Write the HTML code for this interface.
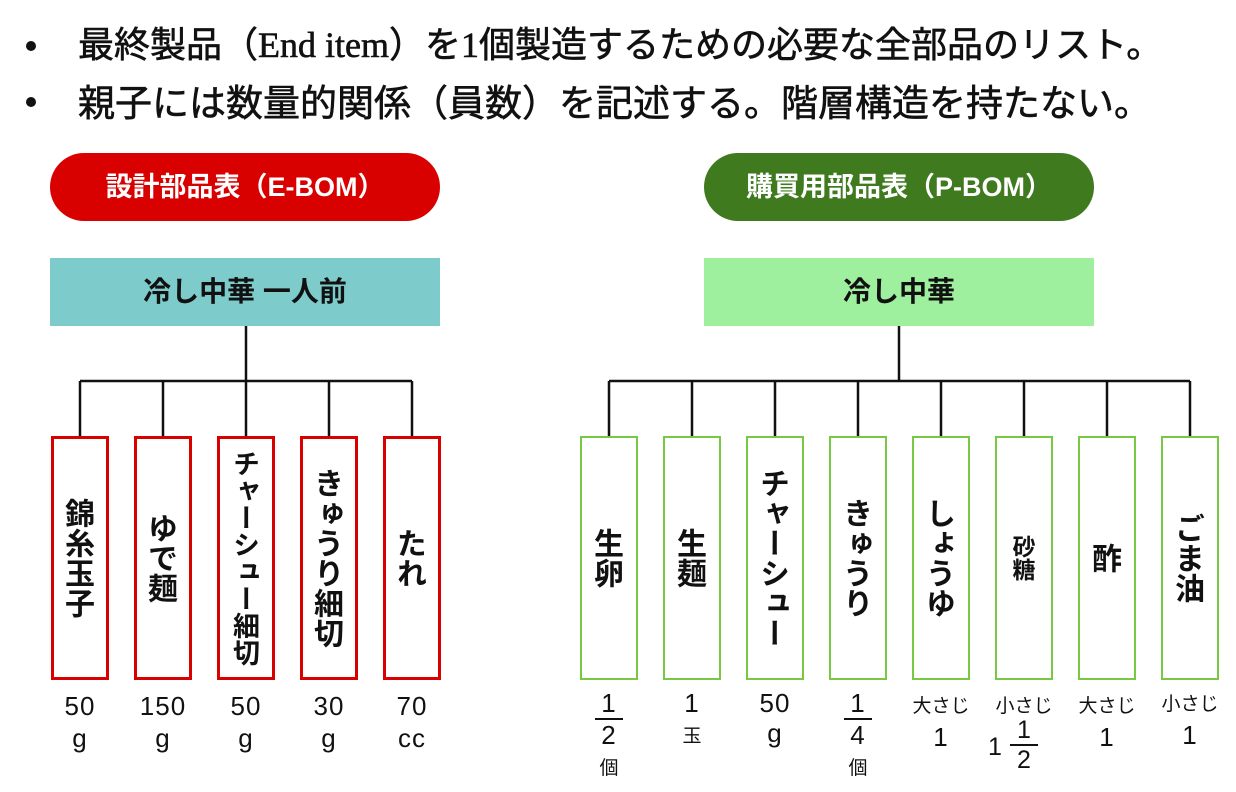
<!DOCTYPE html>
<html><head><meta charset="utf-8"><style>
body{margin:0;width:1236px;height:792px;background:#fff;position:relative;overflow:hidden;font-family:"Liberation Sans","Noto Sans CJK JP",sans-serif;}
.abs{position:absolute}
.line{position:absolute;left:78px;font-size:36px;font-family:"Liberation Serif","Noto Sans CJK JP",sans-serif;white-space:nowrap;color:#111;line-height:40px;-webkit-text-stroke:0.6px #111}
.dot{position:absolute;left:26px;width:10px;height:10px;border-radius:50%;background:#111}
.pill{position:absolute;top:153px;width:390px;height:68px;border-radius:34px;color:#fff;font-weight:bold;font-size:27px;line-height:68px;text-align:center}
.top{position:absolute;top:258px;width:390px;height:68px;font-weight:bold;font-size:28px;line-height:68px;text-align:center;color:#111}
.box{position:absolute;top:436px;width:52px;height:238px;background:#fff;display:flex;align-items:center;justify-content:center}
.v{writing-mode:vertical-rl;text-orientation:upright;font-weight:bold;font-size:30px;line-height:32px;font-family:"Noto Sans CJK JP",sans-serif;color:#111}
.red{border:3px solid #d90000}
.grn{border:2px solid #77c843;width:54px;height:240px}
.q{position:absolute;text-align:center;width:80px;font-size:26px;line-height:32px;color:#111;letter-spacing:1px}
.s{font-size:19px;letter-spacing:0}
.fr{display:inline-block;border-top:2px solid #111;}
</style></head><body>
<div class="dot" style="top:41px"></div>
<div class="line" style="top:25px">最終製品（End item）を1個製造するための必要な全部品のリスト。</div>
<div class="dot" style="top:97px"></div>
<div class="line" style="top:80px;font-family:'Noto Sans CJK JP',sans-serif;font-size:37px">親子には数量的関係（員数）を記述する。階層構造を持たない。</div>

<div class="pill" style="left:50px;background:#d90000">設計部品表（E-BOM）</div>
<div class="pill" style="left:704px;background:#3f7a1f">購買用部品表（P-BOM）</div>
<div class="top" style="left:50px;background:#7ecbcb">冷し中華 一人前</div>
<div class="top" style="left:704px;background:#9ef09e">冷し中華</div>

<svg class="abs" style="left:0;top:0" width="1236" height="792">
<g stroke="#111" stroke-width="2.5" fill="none">
<path d="M246 326V381M80 381H412M80 381V436M163 381V436M246 381V436M329 381V436M412 381V436"/>
<path d="M899 326V381M609 381H1190M609 381V436M692 381V436M775 381V436M858 381V436M941 381V436M1024 381V436M1107 381V436M1190 381V436"/>
</g></svg>

<div class="box red" style="left:51px"><span class="v">錦糸玉子</span></div>
<div class="box red" style="left:134px"><span class="v">ゆで麺</span></div>
<div class="box red" style="left:217px"><span class="v" style="font-size:27px;line-height:28px">チャーシュー細切</span></div>
<div class="box red" style="left:300px"><span class="v">きゅうり細切</span></div>
<div class="box red" style="left:383px"><span class="v">たれ</span></div>

<div class="box grn" style="left:580px"><span class="v">生卵</span></div>
<div class="box grn" style="left:663px"><span class="v">生麺</span></div>
<div class="box grn" style="left:746px"><span class="v">チャーシュー</span></div>
<div class="box grn" style="left:829px"><span class="v">きゅうり</span></div>
<div class="box grn" style="left:912px"><span class="v">しょうゆ</span></div>
<div class="box grn" style="left:995px"><span class="v" style="font-size:23px">砂糖</span></div>
<div class="box grn" style="left:1078px"><span class="v">酢</span></div>
<div class="box grn" style="left:1161px"><span class="v">ごま油</span></div>

<div class="q" style="left:40px;top:690px">50<br>g</div>
<div class="q" style="left:123px;top:690px">150<br>g</div>
<div class="q" style="left:206px;top:690px">50<br>g</div>
<div class="q" style="left:289px;top:690px">30<br>g</div>
<div class="q" style="left:372px;top:690px">70<br>cc</div>

<div class="q" style="left:569px;top:688px;line-height:30px">1<br><span class="fr" style="width:28px">2</span><br><span class="s">個</span></div>
<div class="q" style="left:652px;top:688px;line-height:30px">1<br><span class="s">玉</span></div>
<div class="q" style="left:735px;top:688px;line-height:30px">50<br>g</div>
<div class="q" style="left:818px;top:688px;line-height:30px">1<br><span class="fr" style="width:28px">4</span><br><span class="s">個</span></div>
<div class="q" style="left:901px;top:688px;line-height:30px"><span class="s">大さじ</span><br>1</div>
<div class="q" style="left:984px;top:688px;line-height:30px"><span class="s">小さじ</span></div>
<div class="abs" style="left:988px;top:733px;font-size:25px;color:#111">1</div>
<div class="abs" style="left:1010px;top:716px;font-size:25px;color:#111;text-align:center;width:28px;line-height:28px">1<br><span class="fr" style="width:28px">2</span></div>
<div class="q" style="left:1067px;top:688px;line-height:30px"><span class="s">大さじ</span><br>1</div>
<div class="q" style="left:1150px;top:686px;line-height:30px"><span class="s">小さじ</span><br>1</div>
</body></html>
